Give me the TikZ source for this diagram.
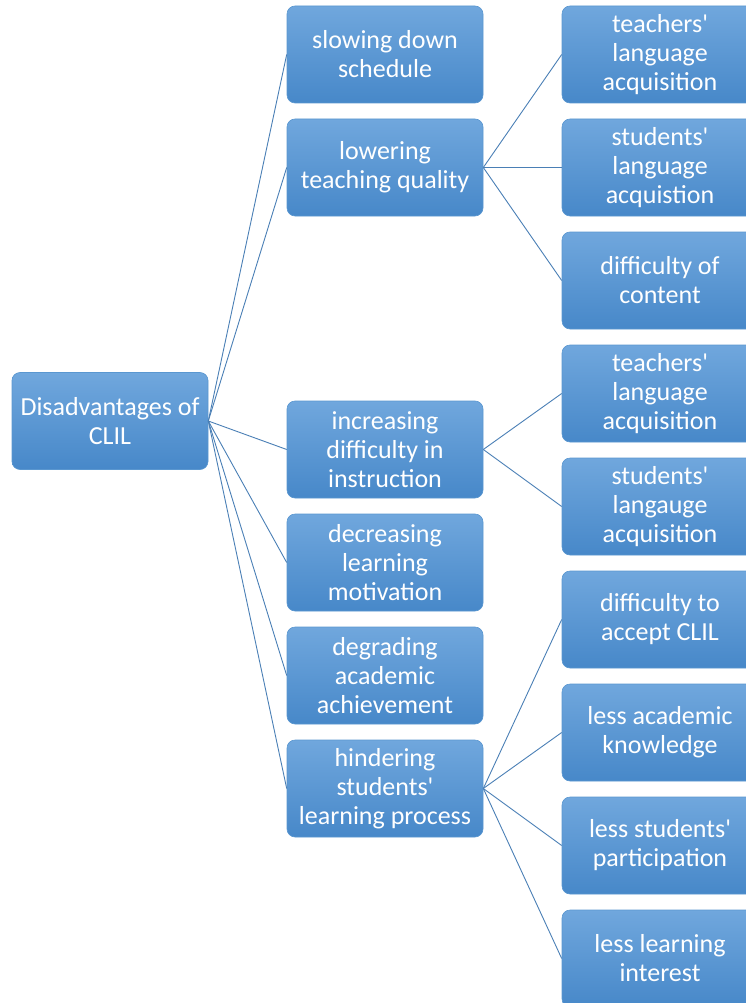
\documentclass[tikz,border=0pt]{standalone}
\usepackage{fontspec}
\setmainfont{Carlito}
\definecolor{boxtop}{HTML}{70A7DD}
\definecolor{boxbot}{HTML}{4788C9}
\definecolor{boxedge}{HTML}{5A97D0}
\definecolor{linkcol}{HTML}{4A7FB5}
\newcommand{\ap}{\textquotesingle}
\begin{document}
\begin{tikzpicture}[x=1pt,y=-1pt,
  box/.style={rectangle, rounded corners=8pt, minimum width=196pt, minimum height=97pt,
    inner sep=2pt, top color=boxtop, bottom color=boxbot, draw=boxedge, line width=0.6pt,
    text=white, align=center, font=\fontsize{26}{29}\selectfont},
  link/.style={draw=linkcol, line width=0.9pt}]
\useasboundingbox (0,0) rectangle (746,1003);
\clip (0,0) rectangle (746,1003);

% root
\node[box] (root) at (110,421) {Disadvantages of\\CLIL};

% first level
\node[box] (a1) at (385,54.5)  {slowing down\\schedule};
\node[box] (a2) at (385,167.5) {lowering\\teaching quality};
\node[box] (a3) at (385,449.5) {increasing\\difficulty in\\instruction};
\node[box] (a4) at (385,562.5) {decreasing\\learning\\motivation};
\node[box] (a5) at (385,675.5) {degrading\\academic\\achievement};
\node[box] (a6) at (385,788.5) {hindering\\students\ap\\learning process};

% second level
\node[box] (b1) at (660,54.5)  {teachers\ap\\language\\acquisition};
\node[box] (b2) at (660,167.5) {students\ap\\language\\acquistion};
\node[box] (b3) at (660,280.5) {difficulty of\\content};
\node[box] (b4) at (660,393.5) {teachers\ap\\language\\acquisition};
\node[box] (b5) at (660,506.5) {students\ap\\langauge\\acquisition};
\node[box] (b6) at (660,619.5) {difficulty to\\accept CLIL};
\node[box] (b7) at (660,732.5) {less academic\\knowledge};
\node[box] (b8) at (660,845.5) {less students\ap\\participation};
\node[box] (b9) at (660,958.5) {less learning\\interest};

% connectors
\foreach \t in {a1,a2,a3,a4,a5,a6} \draw[link] (root.east) -- (\t.west);
\foreach \t in {b1,b2,b3} \draw[link] (a2.east) -- (\t.west);
\foreach \t in {b4,b5} \draw[link] (a3.east) -- (\t.west);
\foreach \t in {b6,b7,b8,b9} \draw[link] (a6.east) -- (\t.west);
\end{tikzpicture}
\end{document}
